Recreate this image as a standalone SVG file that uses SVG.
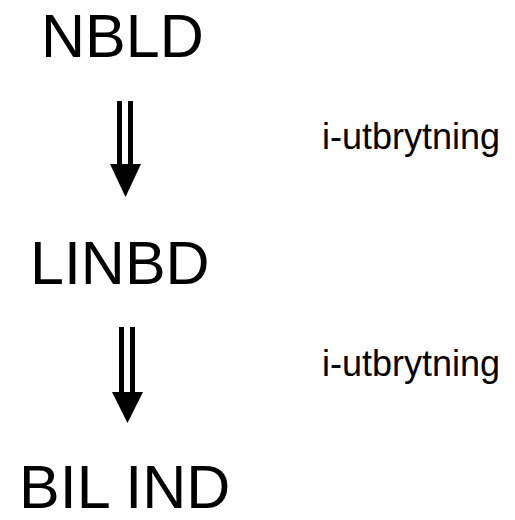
<svg xmlns="http://www.w3.org/2000/svg" width="515" height="520" viewBox="0 0 515 520">
<style>
.big{font-family:"Liberation Sans",Arial,sans-serif;font-size:61px;fill:#000}
.lbl{font-family:"Liberation Sans",Arial,sans-serif;font-size:36px;fill:#000}
.shaft{fill:#000}
</style>
<rect width="515" height="520" fill="#fff"/>
<g id="node-nbld"><text class="big" x="41" y="57">NBLD</text></g>
<g id="node-linbd"><text class="big" x="30" y="284">LINBD</text></g>
<g id="node-bilind"><text class="big" x="19" y="508">BIL IND</text></g>
<g id="connectors">
  <g id="arrow1">
    <rect class="shaft" x="117" y="101" width="5" height="65"/>
    <rect class="shaft" x="128" y="101" width="5" height="65"/>
    <polygon class="shaft" points="110,164 141,164 125.5,197"/>
    <text class="lbl" x="322" y="149">i-utbrytning</text>
  </g>
  <g id="arrow2">
    <rect class="shaft" x="119" y="327" width="5" height="67"/>
    <rect class="shaft" x="130" y="327" width="5" height="67"/>
    <polygon class="shaft" points="112,392 143,392 127.5,423"/>
    <text class="lbl" x="322" y="376">i-utbrytning</text>
  </g>
</g>
</svg>
